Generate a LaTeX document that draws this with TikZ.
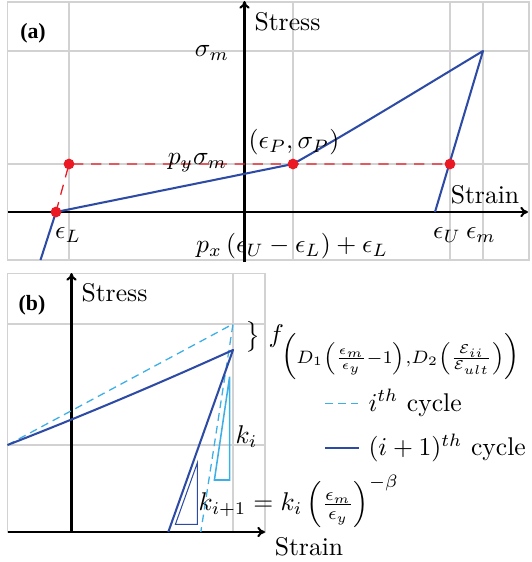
\documentclass[tikz,border=0pt]{standalone}
\usepackage{amsmath}
\usepackage{fontspec}
\newfontfamily\panelfont{Liberation Serif}
\usetikzlibrary{arrows.meta}
\definecolor{gridgray}{RGB}{210,210,210}
\definecolor{curveblue}{RGB}{45,75,165}
\definecolor{lightblue}{RGB}{60,175,230}
\definecolor{dotred}{RGB}{235,25,35}
\tikzset{
  gridline/.style={draw=gridgray,line width=0.5pt},
  axisline/.style={draw=black,line width=0.8pt,-{To[length=3pt,width=4pt]}},
  curve/.style={draw=curveblue,line width=0.8pt},
  ithcurve/.style={draw=lightblue,line width=0.5pt,dash pattern=on 3pt off 2pt},
  reddash/.style={draw=dotred,line width=0.5pt,dash pattern=on 4pt off 3pt},
  reddot/.style={fill=dotred,draw=none,circle,minimum size=4.2pt,inner sep=0pt},
  lbl/.style={inner sep=0pt},
  panel/.style={inner sep=0pt,font=\panelfont\bfseries\fontsize{8.5}{10}\selectfont}
}
\begin{document}
\begin{tikzpicture}[x=0.39pt,y=-0.39pt]
\useasboundingbox (0,0) rectangle (531,562);
% ---------------- panel (a) ----------------
\draw[gridline] (7.5,2) rectangle (529,260);
\foreach \gx in {69,293,450,483} \draw[gridline] (\gx,2) -- (\gx,260);
\foreach \gy in {51,164} \draw[gridline] (7.5,\gy) -- (529,\gy);
\coordinate (axL) at (7.5,212);
\coordinate (axR) at (528,212);
\coordinate (ayB) at (244.5,262);
\coordinate (ayT) at (244.5,1);
\draw[axisline] (axL) -- (axR);
\draw[axisline] (ayB) -- (ayT);
\coordinate (A0) at (40.5,260);
\coordinate (AL) at (56,212);
\coordinate (AP) at (293,164);
\coordinate (AM) at (483,51);
\coordinate (AU) at (435,212);
\coordinate (AR1) at (69,164);
\coordinate (AR3) at (450,164);
\draw[reddash] (AL) -- (AR1) -- (AR3);
\draw[curve,line join=round] (A0) -- (AL) -- (AP) .. controls (355,129) and (420,89) .. (AM) -- (AU);
\node[reddot] (dL) at (AL) {};
\node[reddot] (d1) at (AR1) {};
\node[reddot] (dP) at (AP) {};
\node[reddot] (d3) at (AR3) {};
\node[panel] (pa) at (33,33) {(a)};
\node[lbl,anchor=west] (stressA) at (254,22) {Stress};
\node[lbl] (sigm) at (212,53) {$\sigma_m$};
\node[lbl] (epsP) at (294,142) {$(\epsilon_P,\sigma_P)$};
\node[lbl] (pys) at (197.5,163) {$p_y\sigma_m$};
\node[lbl] (strainA) at (485,195) {Strain};
\node[lbl] (epsL) at (68,235) {$\epsilon_L$};
\node[lbl] (px) at (292,246) {$p_x\left(\epsilon_U-\epsilon_L\right)+\epsilon_L$};
\node[lbl] (epsU) at (447,235) {$\epsilon_U$};
\node[lbl] (epsm) at (481,235) {$\epsilon_m$};
% ---------------- panel (b) ----------------
\draw[gridline] (7.5,273.5) rectangle (265,532);
\draw[gridline] (233,273.5) -- (233,532);
\foreach \gy in {324,445} \draw[gridline] (7.5,\gy) -- (265,\gy);
\coordinate (bxL) at (7.5,532);
\coordinate (bxR) at (265,532);
\coordinate (byB) at (71.5,532);
\coordinate (byT) at (71.5,273);
\draw[axisline] (bxL) -- (bxR);
\draw[axisline] (byB) -- (byT);
\coordinate (B0) at (7.5,445);
\coordinate (Bi) at (233,324);
\coordinate (Bj) at (233,350);
\coordinate (Bie) at (200.8,532);
\coordinate (Bje) at (168.3,532);
\draw[ithcurve] (B0) -- (Bi) -- (Bie);
\draw[curve,line join=round] (B0) .. controls (82,416) and (158,384) .. (Bj) -- (Bje);
\coordinate (T1a) at (214.4,480);
\coordinate (T1b) at (229.6,480);
\coordinate (T1c) at (229.6,376.7);
\draw[draw=lightblue,line width=0.6pt] (T1a) -- (T1b) -- (T1c) -- cycle;
\coordinate (T2a) at (175.4,524.3);
\coordinate (T2b) at (197.4,524.3);
\coordinate (T2c) at (197.4,462.7);
\draw[draw=curveblue,line width=0.4pt] (T2a) -- (T2b) -- (T2c) -- cycle;
\node[panel] (pb) at (32,305) {(b)};
\node[lbl,anchor=west] (stressB) at (81,293) {Stress};
\node[lbl] (brace) at (253,337) {$\big\}$};
\node[lbl,anchor=base west] (fnode) at (268,342.7) {$f_{\Bigl(D_1\left(\frac{\epsilon_m}{\epsilon_y}-1\right),D_2\left(\frac{\mathcal{E}_{ii}}{\mathcal{E}_{ult}}\right)\Bigr)}$};
\coordinate (lg1a) at (325,403.3);
\coordinate (lg1b) at (359,403.3);
\coordinate (lg2a) at (325,447.7);
\coordinate (lg2b) at (359,447.7);
\draw[ithcurve] (lg1a) -- (lg1b);
\draw[curve] (lg2a) -- (lg2b);
\node[lbl,anchor=west] (leg1) at (368,403) {$i^{th}$ cycle};
\node[lbl,anchor=west] (leg2) at (368,448) {$(i+1)^{th}$ cycle};
\node[lbl,anchor=west] (ki) at (235,437) {$k_i$};
\node[lbl,anchor=west] (kip) at (198,501.5) {$k_{i+1}=k_i\left(\frac{\epsilon_m}{\epsilon_y}\right)^{-\beta}$};
\node[lbl] (strainB) at (309,547) {Strain};
\end{tikzpicture}
\end{document}
